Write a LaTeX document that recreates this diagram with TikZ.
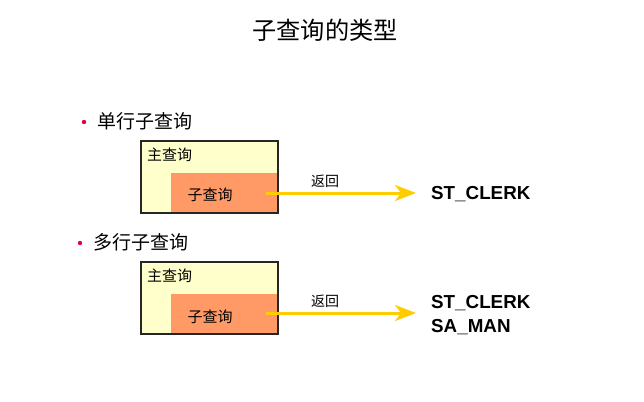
\documentclass[tikz,border=0pt]{standalone}
\usepackage{fontspec}
\setmainfont{Liberation Sans}
\newfontfamily\cjk{Noto Sans CJK SC}
\usetikzlibrary{arrows.meta}
\definecolor{boxyellow}{HTML}{FFFFCC}
\definecolor{suborange}{HTML}{FF9966}
\definecolor{retgold}{HTML}{FFCC00}
\definecolor{dotred}{HTML}{E8003C}

\begin{document}
\begin{tikzpicture}[x=1pt, y=-1pt,
    cn/.style={inner sep=0pt, font=\cjk\fontsize{#1}{#1}\selectfont},
    outerbox/.style={draw=black!85, line width=1.8pt, fill=boxyellow},
    innerbox/.style={fill=suborange},
    retarrow/.style={draw=retgold, line width=3pt, -{Stealth[length=21pt, width=16pt, inset=6pt]}},
    rowname/.style={inner sep=0pt, anchor=west, font=\bfseries\fontsize{18.8}{18.8}\selectfont}]
    \useasboundingbox (0, 0) rectangle (644, 401);

    \node[cn=24.2] (title) at (325, 30) {子查询的类型};

    % single-row subquery
    \fill[dotred] (84, 122) circle (2.2);
    \node[cn=19, anchor=west] (single) at (97, 121) {单行子查询};
    \draw[outerbox] (141, 141) rectangle (278, 213);
    \fill[innerbox] (171, 173) rectangle (277.1, 212.1);
    \draw[black!85, line width=1.8pt] (141, 141) rectangle (278, 213);
    \node[cn=15, anchor=west] (main1) at (147, 155) {主查询};
    \node[cn=15] (sub1) at (210, 195) {子查询};
    \coordinate (a1s) at (266, 193);
    \coordinate (a1e) at (416, 193);
    \draw[retarrow] (a1s) -- (a1e);
    \node[cn=14] (ret1) at (325, 181) {返回};
    \node[rowname] (res1) at (431, 194) {ST\_CLERK};

    % multiple-row subquery
    \fill[dotred] (80, 243) circle (2.2);
    \node[cn=19, anchor=west] (multi) at (93, 242) {多行子查询};
    \draw[outerbox] (141, 262) rectangle (278, 334);
    \fill[innerbox] (171, 294) rectangle (277.1, 333.1);
    \draw[black!85, line width=1.8pt] (141, 262) rectangle (278, 334);
    \node[cn=15, anchor=west] (main2) at (147, 276) {主查询};
    \node[cn=15] (sub2) at (210, 317) {子查询};
    \coordinate (a2s) at (266, 313);
    \coordinate (a2e) at (416, 313);
    \draw[retarrow] (a2s) -- (a2e);
    \node[cn=14] (ret2) at (325, 301) {返回};
    \node[rowname] (res2) at (431, 303) {ST\_CLERK};
    \node[rowname] (res3) at (431, 327) {SA\_MAN};
\end{tikzpicture}
\end{document}
